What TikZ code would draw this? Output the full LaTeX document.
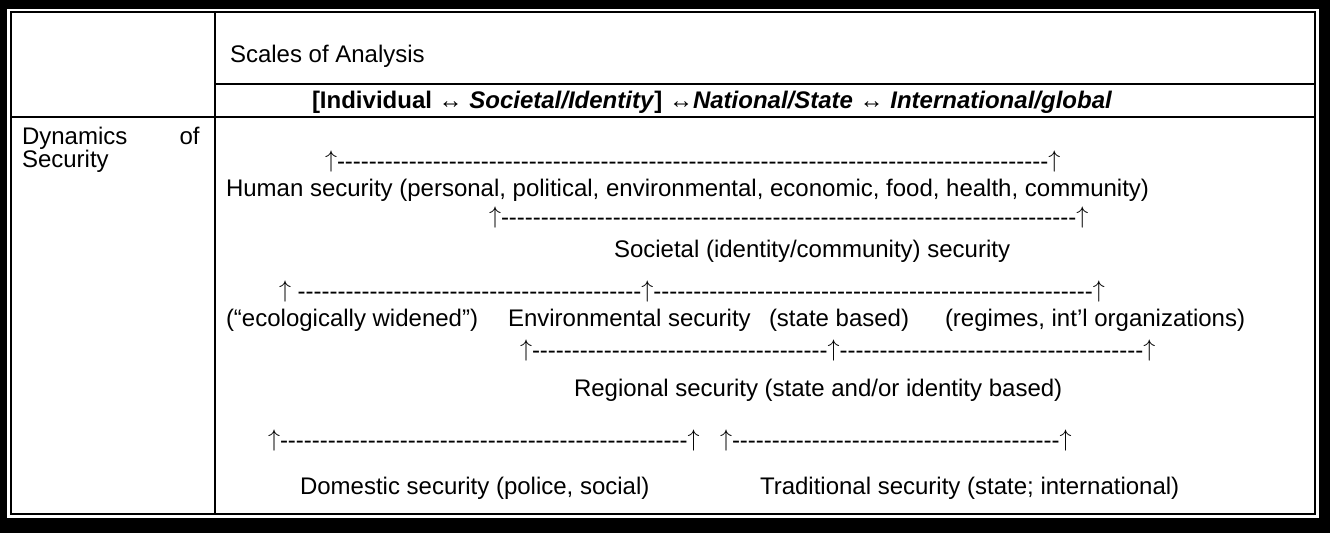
\documentclass[tikz,border=0pt]{standalone}
\usepackage{fontspec}
\setmainfont{Liberation Sans}[Ligatures=TeXOff]
\usepackage{tikz}
\usetikzlibrary{positioning}

% a run of hyphens between the arrow heads
\newcommand{\dashline}[1]{\foreach \d in {1,...,#1}{-}}
\newcommand{\spanmark}{\raisebox{1pt}{$\uparrow$}}

\begin{document}
\begin{tikzpicture}[x=0.5pt,y=-0.5pt,
                    font=\fontsize{12}{14}\selectfont,
                    cell text/.style={anchor=base west,inner sep=0pt,outer sep=0pt},
                    rule/.style={line width=1.25pt}]

\useasboundingbox (0,0) rectangle (1330,533);

%DRAWING Frame and rules of the table

 \fill[black] (0,0) rectangle (1330,533);
 \fill[white] (7,9) rectangle (1319,518);
 \draw[rule] (11,12) rectangle (1315,514);

 \draw[rule] (215,12)--(215,514);
 \draw[rule] (215,84)--(1315,84);
 \draw[rule] (11,117)--(1315,117);

%Header cells
  \node[cell text] (ScalesTitle) at (230,63) {Scales of Analysis};
  \node[cell text] (ScalesRange) at (312,109) {\bfseries [Individual {\mdseries ↔} \textit{Societal/Identity}] {\mdseries ↔}\textit{National/State} {\mdseries ↔} \textit{International/global}};

%Left column
  \node[cell text] (DynamicsWord) at (22,145) {Dynamics};
  \node[anchor=base east,inner sep=0pt] (OfWord) at (200,145) {of};
  \node[cell text] (SecurityWord) at (22,168) {Security};

%Inserting security levels and their spans
  \node[cell text] (HumanSpan) at (325,170) {\spanmark\dashline{89}\spanmark};
  \node[cell text] (HumanSec) at (226,197) {Human security (personal, political, environmental, economic, food, health, community)};

  \node[cell text] (SocietalSpan) at (489,226) {\spanmark\dashline{72}\spanmark};
  \node[cell text] (SocietalSec) at (614,258) {Societal (identity/community) security};

  \node[cell text] (EnvSpan) at (279,300) {\spanmark{} \dashline{43}\spanmark\dashline{55}\spanmark};
  \node[cell text] (EcoWidened) at (226,327) {(“ecologically widened”)};
  \node[cell text] (EnvSec) at (508,327) {Environmental security};
  \node[cell text] (EnvState) at (769,327) {(state based)};
  \node[cell text] (EnvRegimes) at (945,327) {(regimes, int’l organizations)};

  \node[cell text] (RegionalSpan) at (520,359) {\spanmark\dashline{37}\spanmark\dashline{38}\spanmark};
  \node[cell text] (RegionalSec) at (574,397) {Regional security (state and/or identity based)};

  \node[cell text] (DomesticSpan) at (268,449) {\spanmark\dashline{51}\spanmark};
  \node[cell text] (TraditionalSpan) at (720,449) {\spanmark\dashline{41}\spanmark};
  \node[cell text] (DomesticSec) at (300,495) {Domestic security (police, social)};
  \node[cell text] (TraditionalSec) at (760,495) {Traditional security (state; international)};

\end{tikzpicture}
\end{document}
